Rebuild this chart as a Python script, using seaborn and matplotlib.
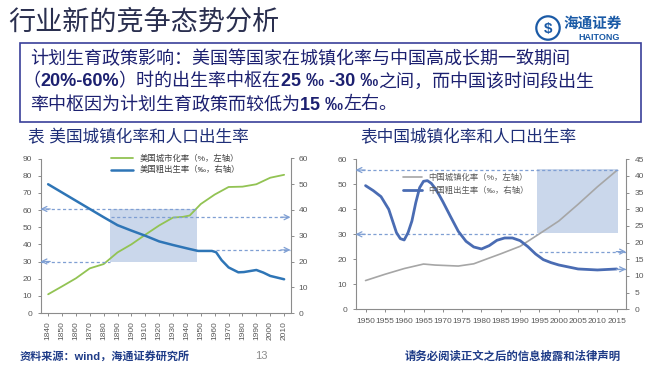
import matplotlib
matplotlib.use('Agg')
import matplotlib.pyplot as plt
import matplotlib.patches as mpatches
import seaborn as sns

# --- data ---
us_years = [1840, 1850, 1860, 1870, 1880, 1890, 1900, 1910, 1920, 1930, 1937, 1942,
            1950, 1960, 1970, 1980, 1990, 2000, 2010]
us_urban = [10.9, 15.5, 20.2, 26.0, 28.5, 35.3, 40.0, 45.6, 51.0, 55.6, 56.0, 56.8,
            63.5, 69.0, 73.4, 73.6, 75.0, 78.8, 80.5]
us_birth_years = [1840, 1850, 1860, 1870, 1880, 1890, 1900, 1910, 1920, 1930, 1940, 1948,
                  1958, 1961, 1965, 1970, 1977, 1981, 1990, 1995, 2000, 2010]
us_birth = [50.0, 46.8, 43.6, 40.4, 37.2, 34.1, 32.0, 30.0, 27.8, 26.4, 25.1, 24.1,
            24.1, 23.6, 20.5, 17.7, 15.8, 15.9, 16.7, 15.7, 14.4, 13.1]

cn_years = [1950, 1955, 1960, 1965, 1968, 1974, 1978, 1982, 1985, 1990, 1995, 2000,
            2005, 2010, 2015]
cn_urban = [11.5, 14.0, 16.3, 18.1, 17.7, 17.3, 18.2, 20.5, 22.2, 25.2, 30.2, 35.3,
            42.0, 49.0, 55.5]
cn_birth_years = [1950, 1952, 1954, 1956, 1957, 1958, 1959, 1960, 1961, 1962, 1963, 1964,
                  1965, 1966, 1967, 1968, 1969, 1970, 1972, 1974, 1976, 1978, 1980, 1982,
                  1984, 1986, 1988, 1990, 1992, 1994, 1996, 1998, 2000, 2005, 2010, 2015]
cn_birth = [37.1, 35.6, 33.8, 30.0, 26.5, 23.0, 21.2, 20.8, 23.0, 26.5, 32.0, 36.5,
            38.4, 38.6, 37.8, 36.3, 34.4, 32.3, 27.8, 23.4, 20.4, 18.7, 18.1, 19.1,
            20.7, 21.4, 21.4, 20.6, 18.8, 16.6, 14.9, 14.0, 13.3, 12.1, 11.8, 12.1]

# highlighted periods / reference levels
us_band_years = (1884.5, 1947)
us_band_urban = (30, 60.6)
us_birth_refs = [(37.2, 1885), (24.5, 1961)]
cn_band_years = (1994.3, 2015.4)
cn_band_urban = (30.7, 56.2)
cn_urban_refs = [55.7, 30.0]
cn_birth_refs = [(17.3, 1995), (12.0, 2015)]

GREEN = '#92c353'
US_BLUE = '#2e75b6'
CN_BLUE = '#4a6cb3'
GREY = '#a6a6a6'
DASH = '#7f9fd3'
BAND = '#cad7eb'
NAVY = '#1c2070'
TICK = '#595959'

sns.set_style('ticks')
plt.rcParams['font.family'] = ['Liberation Sans', 'Noto Sans CJK SC', 'DejaVu Sans']

fig = plt.figure(figsize=(6.6, 3.71), dpi=100)
W, H = 660, 371


def fx(px):
    return px / W


def fy(py):
    return 1 - py / H


# --- slide header ---
fig.text(fx(8), fy(23), '行业新的竞争态势分析', fontsize=19.5, color='#2a2f4f', va='center')

logo = fig.add_axes([fx(535), fy(41), fx(26), 26 / H])
logo.set_xlim(-1, 1)
logo.set_ylim(-1, 1)
logo.set_aspect('equal')
logo.axis('off')
logo.add_patch(mpatches.Circle((0, 0), 0.9, fill=False, ec='#1a5aa6', lw=1.6))
logo.text(0, -0.05, '$', ha='center', va='center', color='#1a5aa6', fontsize=11, fontweight='bold')
fig.text(fx(563), fy(24), '海通证券', fontsize=10.5, color='#1a5aa6', va='center',
         fontstyle='italic', fontweight='bold')
fig.text(fx(578), fy(38), 'HAITONG', fontsize=6.5, color='#1a5aa6', va='center', fontweight='bold')

fig.patches.append(mpatches.Rectangle((fx(20), fy(122)), fx(621), 79 / H, transform=fig.transFigure,
                                      fill=False, ec='#3a3f9a', lw=1.2))

renderer = fig.canvas.get_renderer()


def rich_line(x, y, parts):
    for s, bold in parts:
        t = fig.text(x, y, s, fontsize=13, color=NAVY, va='center',
                     fontweight='bold' if bold else 'normal')
        x += t.get_window_extent(renderer=renderer).width / fig.bbox.width


rich_line(fx(30), fy(59), [('计划生育政策影响：美国等国家在城镇化率与中国高成长期一致期间', False)])
rich_line(fx(22), fy(82), [('（', False), ('20%-60%', True), ('）时的出生率中枢在', False),
                           ('25 ‰ -30 ‰', True), ('之间，而中国该时间段出生', False)])
rich_line(fx(30), fy(105), [('率中枢因为计划生育政策而较低为', False), ('15 ‰', True), ('左右。', False)])

fig.text(fx(28), fy(137), '表 美国城镇化率和人口出生率', fontsize=12, color='#1f2f78', va='center')
fig.text(fx(360), fy(137), '表中国城镇化率和人口出生率', fontsize=12, color='#1f2f78', va='center')

fig.text(fx(20), fy(356), '资料来源：wind，海通证券研究所', fontsize=8, color='#1f3c88',
         va='center', fontweight='bold')
fig.text(fx(255), fy(356), '13', fontsize=8, color='#8c8c8c', va='center')
fig.text(fx(405), fy(356), '请务必阅读正文之后的信息披露和法律声明', fontsize=8.2, color='#1f3c88',
         va='center', fontweight='bold')


def style_axes(ax_l, ax_r):
    for a in (ax_l, ax_r):
        a.spines['top'].set_visible(False)
        for s in a.spines.values():
            s.set_color('#8c8c8c')
            s.set_linewidth(0.8)
        a.tick_params(labelsize=6, colors='#8c8c8c', labelcolor=TICK, length=2.5, width=0.7)
        a.set_xlabel('')
        a.set_ylabel('')
    ax_l.spines['right'].set_visible(False)
    ax_r.spines['right'].set_visible(True)
    ax_r.spines['left'].set_visible(False)
    ax_r.spines['bottom'].set_visible(False)


def dashed_ref(ax, x0, x1, y, arrow_at):
    ax.plot([x0, x1], [y, y], ls=(0, (2.5, 2)), color=DASH, lw=0.9, zorder=3)
    tip = x0 if arrow_at == 'left' else x1
    off = 7 if arrow_at == 'left' else -7
    ax.annotate('', xy=(tip, y), xytext=(off, 0), textcoords='offset points',
                arrowprops=dict(arrowstyle='->', color=DASH, lw=0.9, shrinkA=0, shrinkB=0,
                                mutation_scale=9), annotation_clip=False)


# --- US chart ---
ax1 = fig.add_axes([fx(40.5), fy(313), fx(250), 154.5 / H])
ax1.set_xlim(1834.5, 2014.6)
ax1.add_patch(mpatches.Rectangle((us_band_years[0], us_band_urban[0]),
                                 us_band_years[1] - us_band_years[0],
                                 us_band_urban[1] - us_band_urban[0],
                                 facecolor=BAND, edgecolor='none', zorder=0))
sns.lineplot(x=us_years, y=us_urban, ax=ax1, color=GREEN, lw=1.3, zorder=2)
dashed_ref(ax1, 1834.5, us_band_years[1], us_band_urban[1], 'left')
dashed_ref(ax1, 1834.5, us_band_years[0], us_band_urban[0], 'left')
ax1.set_ylim(0, 90)
ax1.set_yticks(range(0, 91, 10))
ax1.set_xticks(range(1840, 2011, 10))
ax1.tick_params(axis='x', labelrotation=90)

ax1b = ax1.twinx()
sns.lineplot(x=us_birth_years, y=us_birth, ax=ax1b, color=US_BLUE, lw=1.8, zorder=2)
for val, start in us_birth_refs:
    dashed_ref(ax1b, start, 2014.6, val, 'right')
ax1b.set_ylim(0, 60)
ax1b.set_yticks(range(0, 61, 10))
ax1b.set_xlim(1834.5, 2014.6)
style_axes(ax1, ax1b)

h1 = [plt.Line2D([], [], color=GREEN, lw=1.3), plt.Line2D([], [], color=US_BLUE, lw=1.8)]
ax1b.legend(h1, ['美国城市化率（%，左轴）', '美国粗出生率（‰，右轴）'], loc='upper left',
            bbox_to_anchor=(0.27, 1.045), frameon=False, fontsize=6, handlelength=2.6,
            labelspacing=0.35, labelcolor='#404040', borderaxespad=0)

# --- China chart ---
ax2 = fig.add_axes([fx(355.5), fy(309.3), fx(270.5), 150 / H])
ax2.set_xlim(1947.4, 2017.4)
ax2.add_patch(mpatches.Rectangle((cn_band_years[0], cn_band_urban[0]),
                                 cn_band_years[1] - cn_band_years[0],
                                 cn_band_urban[1] - cn_band_urban[0],
                                 facecolor=BAND, edgecolor='none', zorder=0))
sns.lineplot(x=cn_years, y=cn_urban, ax=ax2, color=GREY, lw=1.2, zorder=2)
dashed_ref(ax2, 1947.4, cn_band_years[1], cn_urban_refs[0], 'left')
dashed_ref(ax2, 1947.4, cn_band_years[0], cn_urban_refs[1], 'left')
ax2.set_ylim(0, 60)
ax2.set_yticks(range(0, 61, 10))
ax2.set_xticks(range(1950, 2016, 5))

ax2b = ax2.twinx()
sns.lineplot(x=cn_birth_years, y=cn_birth, ax=ax2b, color=CN_BLUE, lw=2.0, zorder=2)
for val, start in cn_birth_refs:
    dashed_ref(ax2b, start, 2017.4, val, 'right')
ax2b.set_ylim(0, 45)
ax2b.set_yticks(range(0, 46, 5))
ax2b.set_xlim(1947.4, 2017.4)
style_axes(ax2, ax2b)

h2 = [plt.Line2D([], [], color=GREY, lw=1.2), plt.Line2D([], [], color=CN_BLUE, lw=2.0)]
ax2b.legend(h2, ['中国城镇化率（%，左轴）', '中国粗出生率（‰，右轴）'], loc='upper left',
            bbox_to_anchor=(0.165, 0.93), frameon=False, fontsize=6, handlelength=2.2,
            labelspacing=0.6, labelcolor='#595959', borderaxespad=0)

fig.savefig('out.png', dpi=100)
